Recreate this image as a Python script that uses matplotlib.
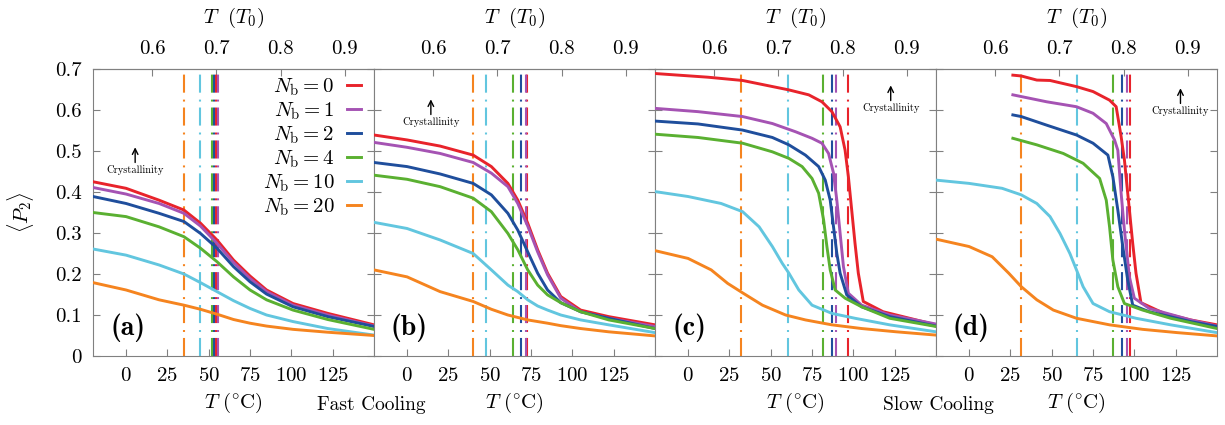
import numpy as np
import matplotlib
matplotlib.use("Agg")
import matplotlib.pyplot as plt

plt.rcParams["font.family"] = "serif"
plt.rcParams["font.serif"] = ["cmr10", "DejaVu Serif"]
plt.rcParams["mathtext.fontset"] = "cm"
plt.rcParams["axes.formatter.use_mathtext"] = True
plt.rcParams["lines.scale_dashes"] = False

# ---- data: T in degC, <P2> ----
NB = [0, 1, 2, 4, 10, 20]
COL = ["#e8232b", "#a553b3", "#1f4e9c", "#5ab031", "#62c6df", "#f5841f"]

# (a) fast cooling, set 1
a_T = [-20, 0, 20, 35, 45, 55, 65, 75, 85, 101, 122, 150]
a0_P = [.425, .409, .380, .356, .324, .283, .234, .195, .161, .128, .104, .076]
a1_P = [.411, .395, .372, .348, .317, .275, .228, .189, .157, .124, .100, .073]
a2_P = [.389, .372, .348, .328, .299, .263, .218, .181, .151, .120, .096, .072]
a4_P = [.350, .340, .315, .291, .263, .230, .193, .161, .137, .112, .089, .065]
a10_P = [.261, .246, .222, .200, .179, .157, .135, .116, .100, .084, .067, .051]
a20_P = [.179, .161, .137, .124, .114, .102, .089, .080, .073, .065, .058, .050]
a_tm = [54.5, 55.5, 53.5, 52, 45, 35]

# (b) fast cooling, set 2
b_T = [-20, 0, 20, 40, 51, 61, 67, 73, 79, 85, 93, 105, 122, 150]
b0_P = [.539, .527, .512, .490, .462, .421, .380, .324, .259, .202, .145, .112, .096, .076]
b1_P = [.521, .509, .494, .472, .446, .413, .372, .317, .254, .198, .141, .108, .092, .072]
b2_P = [.472, .462, .444, .421, .393, .348, .307, .254, .202, .161, .130, .108, .092, .067]
b4_P = [.441, .431, .413, .385, .352, .299, .259, .210, .173, .149, .130, .108, .088, .067]
b10_P = [.326, .311, .283, .250, .210, .173, .157, .137, .122, .112, .100, .088, .076, .057]
b20_P = [.210, .193, .157, .133, .114, .100, .094, .088, .084, .080, .074, .067, .059, .049]
b_tm = [72.8, 72, 69, 64, 48, 40]

# (c) slow cooling, set 1
c0_T = [-20, 12, 33, 61, 73, 81, 87, 92, 95, 97, 99, 101, 103, 106, 118, 134, 150]
c0_P = [.689, .680, .672, .649, .637, .620, .596, .559, .502, .437, .356, .275, .202, .133, .108, .092, .076]
c1_T = [-20, 6, 33, 51, 65, 75, 81, 85, 88, 90, 92, 94, 97, 105, 122, 150]
c1_P = [.604, .596, .584, .567, .547, .531, .519, .494, .446, .380, .299, .218, .153, .124, .100, .078]
c2_T = [-20, 6, 33, 51, 61, 71, 79, 83, 86, 88, 90, 92, 96, 105, 122, 150]
c2_P = [.573, .566, .551, .533, .515, .490, .462, .429, .380, .315, .250, .202, .149, .120, .096, .073]
c4_T = [-20, 6, 33, 51, 61, 69, 75, 79, 82, 84, 86, 89, 95, 105, 122, 150]
c4_P = [.541, .533, .519, .498, .482, .462, .433, .397, .332, .267, .210, .161, .141, .120, .092, .072]
c10_T = [-20, 0, 20, 33, 43, 51, 57, 61, 67, 75, 87, 101, 122, 150]
c10_P = [.401, .389, .372, .352, .315, .267, .226, .202, .161, .124, .104, .092, .076, .059]
c20_T = [-20, 0, 14, 24, 33, 45, 59, 71, 87, 105, 126, 150]
c20_P = [.257, .238, .210, .177, .154, .124, .100, .088, .076, .067, .059, .051]
c_tm = [96.6, 89.2, 87.3, 81.7, 60.5, 32.2]

# (d) slow cooling, set 2
d0_T = [26.5, 31.6, 41, 49, 65, 75, 85, 89, 92, 94, 96, 99, 101, 104, 118, 134, 150]
d0_P = [.685, .683, .673, .672, .657, .645, .624, .608, .535, .478, .397, .275, .202, .130, .104, .088, .076]
d1_T = [26.5, 47, 65, 75, 83, 88, 90, 92, 94, 97, 100, 109, 134, 150]
d1_P = [.637, .620, .608, .592, .567, .527, .502, .397, .307, .193, .141, .116, .088, .073]
d2_T = [26.5, 31.6, 47, 65, 75, 84, 87, 90, 93, 96, 99, 109, 134, 150]
d2_P = [.588, .584, .563, .539, .519, .490, .437, .356, .267, .185, .124, .108, .084, .072]
d4_T = [26.5, 41, 57, 69, 79, 83, 85, 87, 90, 94, 105, 122, 150]
d4_P = [.531, .515, .494, .470, .433, .380, .315, .234, .169, .128, .112, .092, .067]
d10_T = [-20, 0, 20, 31.6, 41, 49, 55, 61, 65, 69, 75, 85, 101, 122, 150]
d10_P = [.429, .421, .409, .393, .372, .340, .299, .250, .210, .169, .128, .108, .092, .076, .057]
d20_T = [-20, 0, 14, 24, 31.6, 41, 51, 65, 85, 105, 126, 150]
d20_P = [.285, .267, .242, .202, .169, .137, .112, .092, .076, .065, .057, .049]
d_tm = [97.3, 95.3, 92.3, 87.2, 65, 31.6]

PANELS = [
    ("(a)", [(a_T, a0_P), (a_T, a1_P), (a_T, a2_P), (a_T, a4_P), (a_T, a10_P), (a_T, a20_P)], a_tm, (5.5, 0.454)),
    ("(b)", [(b_T, b0_P), (b_T, b1_P), (b_T, b2_P), (b_T, b4_P), (b_T, b10_P), (b_T, b20_P)], b_tm, (14.4, 0.571)),
    ("(c)", [(c0_T, c0_P), (c1_T, c1_P), (c2_T, c2_P), (c4_T, c4_P), (c10_T, c10_P), (c20_T, c20_P)], c_tm, (122.6, 0.605)),
    ("(d)", [(d0_T, d0_P), (d1_T, d1_P), (d2_T, d2_P), (d4_T, d4_P), (d10_T, d10_P), (d20_T, d20_P)], d_tm, (127.9, 0.598)),
]

# reduced temperature <-> Celsius (affine)
C_PER_T0, C_OFF = 388.3, -217.2
def c2t(c):
    return (np.asarray(c) - C_OFF) / C_PER_T0
def t2c(t):
    return np.asarray(t) * C_PER_T0 + C_OFF

FS = 15
GREY = "#808080"
DASHDOT = (0, (13, 4.3, 1.4, 5))

fig = plt.figure(figsize=(12.25, 4.25), dpi=100)
left, width, bottom, height = 93 / 1225, 281 / 1225, 1 - 356 / 425, 287 / 425

for i, (tag, curves, tms, cryst) in enumerate(PANELS):
    ax = fig.add_axes([left + i * width, bottom, width, height])
    for (T, P), tm, c, nb in zip(curves, tms, COL, NB):
        ax.plot(T, P, color=c, lw=2.1, label="$N_\\mathrm{b} = %d$" % nb, zorder=3)
        ax.axvline(tm, color=c, lw=1.5, ls=DASHDOT, zorder=2)
    ax.set_xlim(-20, 150)
    ax.set_ylim(0, 0.7)
    ax.set_xticks([0, 25, 50, 75, 100, 125])
    ax.set_yticks(np.arange(0, 0.71, 0.1))
    ax.tick_params(direction="in", length=5, width=0.8, color=GREY, labelsize=FS,
                   right=True, top=False, pad=8)
    if i == 0:
        ax.set_yticklabels(["0"] + ["%.1f" % v for v in np.arange(0.1, 0.71, 0.1)])
        ax.set_ylabel("$\\langle P_2\\rangle$", fontsize=FS, labelpad=14)
    else:
        ax.set_yticklabels([])
    for s in ax.spines.values():
        s.set_color(GREY)
    ax.set_xlabel("$T\\ ({}^{\\circ}\\mathrm{C})$", fontsize=FS, labelpad=4)

    sec = ax.secondary_xaxis("top", functions=(c2t, t2c))
    sec.set_xticks([0.6, 0.7, 0.8, 0.9])
    sec.set_xticklabels(["0.6", "0.7", "0.8", "0.9"])
    sec.tick_params(direction="in", length=5, width=0.8, color=GREY, labelsize=FS, pad=8)
    sec.spines["top"].set_color(GREY)
    sec.set_xlabel("$T\\ \\ (T_0)$", fontsize=FS, labelpad=12)

    ax.text(0.124, 0.098, tag, transform=ax.transAxes, fontsize=20, family="cmb10",
            ha="center", va="center")
    cx, cy = cryst
    ax.text(cx, cy, "Crystallinity", fontsize=7.5, ha="center", va="center")
    ax.annotate("", xy=(cx, cy + 0.055), xytext=(cx, cy + 0.018),
                arrowprops=dict(arrowstyle="->", lw=1.0, color="black",
                                shrinkA=0, shrinkB=0))

    if i == 0:
        ax.legend(loc="upper right", bbox_to_anchor=(0.955, 0.975), frameon=False,
                  markerfirst=False, fontsize=FS, handlelength=0.7, handletextpad=0.6,
                  labelspacing=0.12, borderpad=0, borderaxespad=0)

fig.text(371 / 1225, 1 - 405 / 425, "Fast Cooling", fontsize=14, ha="center", va="center")
fig.text(938 / 1225, 1 - 405 / 425, "Slow Cooling", fontsize=14, ha="center", va="center")

fig.savefig("out.png", dpi=100)
